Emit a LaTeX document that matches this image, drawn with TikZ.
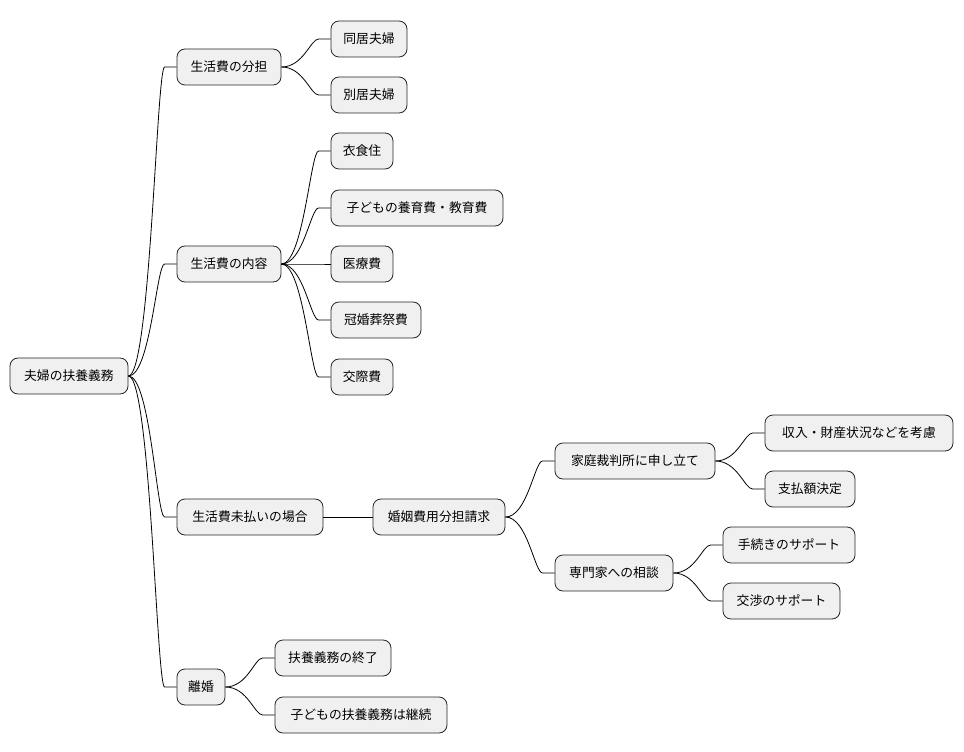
\documentclass[tikz,border=0pt]{standalone}
\usepackage{fontspec}
\setmainfont{Noto Sans CJK JP}
\begin{document}
\begin{tikzpicture}[x=0.75pt,y=-0.75pt,
  box/.style={draw=black!85,fill=black!6,rounded corners=6pt,line width=0.6pt,minimum height=27pt,inner sep=0pt,font=\fontsize{9.6pt}{12pt}\selectfont},
  link/.style={draw=black,line width=0.6pt}]
\useasboundingbox (0,0) rectangle (964,752);
\newcommand\nd[5]{\node[box,minimum width={(#3-#2)*0.75pt}] (#1) at ({(#2+#3)/2},#4) {#5};}
\newcommand\conn[2]{\draw[link] (#1.east) .. controls +(22,0) and +(-8,0) .. ([xshift=-9pt]#2.west) -- (#2.west);}
\nd{root}{10}{128}{376}{夫婦の扶養義務}
\nd{a}{177}{281}{67}{生活費の分担}
\nd{a1}{331}{407}{39}{同居夫婦}
\nd{a2}{331}{407}{95}{別居夫婦}
\nd{b}{177}{281}{264}{生活費の内容}
\nd{b1}{331}{393}{151}{衣食住}
\nd{b2}{331}{503}{208}{子どもの養育費・教育費}
\nd{b3}{331}{393}{264}{医療費}
\nd{b4}{331}{421}{320}{冠婚葬祭費}
\nd{b5}{331}{393}{377}{交際費}
\nd{c}{177}{323}{517}{生活費未払いの場合}
\nd{c1}{373}{505}{517}{婚姻費用分担請求}
\nd{d}{555}{715}{461}{家庭裁判所に申し立て}
\nd{d1}{765}{953}{433}{収入・財産状況などを考慮}
\nd{d2}{765}{855}{489}{支払額決定}
\nd{e}{555}{673}{573}{専門家への相談}
\nd{e1}{723}{855}{545}{手続きのサポート}
\nd{e2}{723}{840}{601}{交渉のサポート}
\nd{f}{177}{225}{687}{離婚}
\nd{f1}{275}{391}{658}{扶養義務の終了}
\nd{f2}{275}{447}{715}{子どもの扶養義務は継続}
\conn{root}{a}\conn{root}{b}\conn{root}{c}\conn{root}{f}
\conn{a}{a1}\conn{a}{a2}
\conn{b}{b1}\conn{b}{b2}\conn{b}{b3}\conn{b}{b4}\conn{b}{b5}
\draw[link] (c) -- (c1);
\conn{c1}{d}\conn{c1}{e}
\conn{d}{d1}\conn{d}{d2}
\conn{e}{e1}\conn{e}{e2}
\conn{f}{f1}\conn{f}{f2}
\end{tikzpicture}
\end{document}
